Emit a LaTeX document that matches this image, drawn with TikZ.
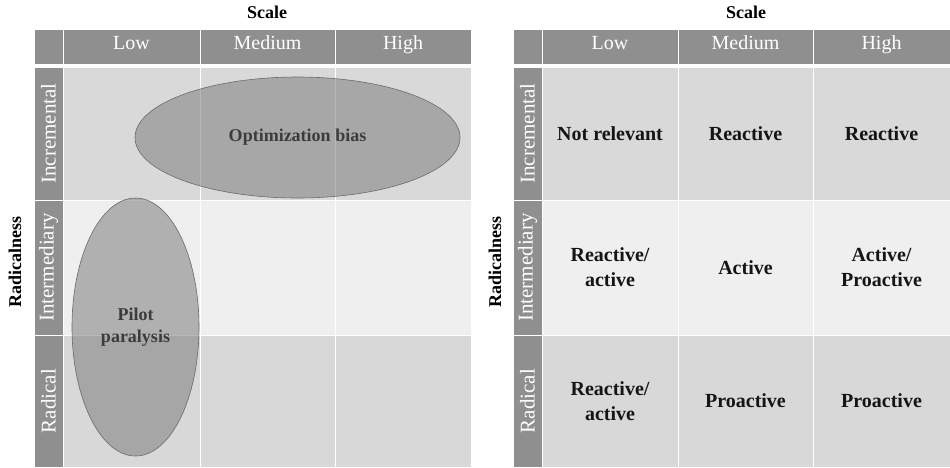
\documentclass[tikz,border=0pt]{standalone}
\usepackage{fontspec}
\setmainfont{Liberation Serif}
\usetikzlibrary{shapes.geometric}
\definecolor{hdrgray}{HTML}{8F8F8F}
\definecolor{rowA}{HTML}{D9D9D9}
\definecolor{rowB}{HTML}{EFEFEF}
\definecolor{rowC}{HTML}{D8D8D8}
\definecolor{ovalfill}{HTML}{7E7E7E}
\definecolor{ovaledge}{HTML}{6A6A6A}
\definecolor{ovaltext}{HTML}{3C3C3C}
\definecolor{celltext}{HTML}{151515}
\tikzset{
  box/.style={rectangle, draw=white, line width=1pt, inner sep=0pt},
  hdr/.style={box, fill=hdrgray, text=white, font=\fontsize{20}{23}\selectfont,
    text height=0.85em, text depth=0.2em},
  side/.style={box, fill=hdrgray},
  sidetext/.style={text=white, font=\fontsize{21}{24}\selectfont, rotate=90, inner sep=0pt},
  body/.style={box, text=celltext, align=center, font=\fontsize{20}{25}\selectfont\bfseries},
  axis/.style={font=\fontsize{18}{21}\selectfont\bfseries, text=black, inner sep=0pt},
  oval/.style={ellipse, draw=ovaledge, line width=0.6pt, fill=ovalfill, fill opacity=0.55,
    text opacity=1, text=ovaltext, align=center, inner sep=0pt,
    font=\fontsize{18}{22}\selectfont\bfseries},
}
\begin{document}
\begin{tikzpicture}[x=1pt,y=-1pt]
\useasboundingbox (0,0) rectangle (950,467);
\fill[white] (0,0) rectangle (950,467);

% ---------- left matrix: scale x radicalness with the two biases ----------
\node[axis] (Lscale) at (267,12) {Scale};
\node[axis, rotate=90] (Lrad) at (15,262) {Radicalness};

\node[hdr, minimum width=29pt, minimum height=35pt] (Lcorner) at (48.5,46.5) {};
\node[hdr, minimum width=137pt, minimum height=35pt] (Llow) at (131.5,46.5) {Low};
\node[hdr, minimum width=135pt, minimum height=35pt] (Lmed) at (267.5,46.5) {Medium};
\node[hdr, minimum width=136pt, minimum height=35pt] (Lhigh) at (403,46.5) {High};

\node[side, minimum width=29pt, minimum height=133pt] (Lr1) at (48.5,133.5) {};
\node[side, minimum width=29pt, minimum height=135pt] (Lr2) at (48.5,267.5) {};
\node[side, minimum width=29pt, minimum height=132pt] (Lr3) at (48.5,401) {};
\node[sidetext] (Lr1t) at (Lr1) {Incremental};
\node[sidetext] (Lr2t) at (Lr2) {Intermediary};
\node[sidetext] (Lr3t) at (Lr3) {Radical};

\node[body, fill=rowA, minimum width=137pt, minimum height=133pt] (L11) at (131.5,133.5) {};
\node[body, fill=rowA, minimum width=135pt, minimum height=133pt] (L12) at (267.5,133.5) {};
\node[body, fill=rowA, minimum width=136pt, minimum height=133pt] (L13) at (403,133.5) {};
\node[body, fill=rowB, minimum width=137pt, minimum height=135pt] (L21) at (131.5,267.5) {};
\node[body, fill=rowB, minimum width=135pt, minimum height=135pt] (L22) at (267.5,267.5) {};
\node[body, fill=rowB, minimum width=136pt, minimum height=135pt] (L23) at (403,267.5) {};
\node[body, fill=rowC, minimum width=137pt, minimum height=132pt] (L31) at (131.5,401) {};
\node[body, fill=rowC, minimum width=135pt, minimum height=132pt] (L32) at (267.5,401) {};
\node[body, fill=rowC, minimum width=136pt, minimum height=132pt] (L33) at (403,401) {};

\node[oval, minimum width=325pt, minimum height=121pt] (optim) at (297.5,137.5) {Optimization bias};
\node[oval, minimum width=127pt, minimum height=258pt] (pilot) at (135.5,327) {Pilot\\paralysis};

% ---------- right matrix: scale x radicalness with the responses ----------
\node[axis] (Rscale) at (746,12) {Scale};
\node[axis, rotate=90] (Rrad) at (495,262) {Radicalness};

\node[hdr, minimum width=29pt, minimum height=35pt] (Rcorner) at (527.5,46.5) {};
\node[hdr, minimum width=136pt, minimum height=35pt] (Rlow) at (610,46.5) {Low};
\node[hdr, minimum width=135pt, minimum height=35pt] (Rmed) at (745.5,46.5) {Medium};
\node[hdr, minimum width=137pt, minimum height=35pt] (Rhigh) at (881.5,46.5) {High};

\node[side, minimum width=29pt, minimum height=133pt] (Rr1) at (527.5,133.5) {};
\node[side, minimum width=29pt, minimum height=135pt] (Rr2) at (527.5,267.5) {};
\node[side, minimum width=29pt, minimum height=132pt] (Rr3) at (527.5,401) {};
\node[sidetext] (Rr1t) at (Rr1) {Incremental};
\node[sidetext] (Rr2t) at (Rr2) {Intermediary};
\node[sidetext] (Rr3t) at (Rr3) {Radical};

\node[body, fill=rowA, minimum width=136pt, minimum height=133pt] (R11) at (610,133.5) {Not relevant};
\node[body, fill=rowA, minimum width=135pt, minimum height=133pt] (R12) at (745.5,133.5) {Reactive};
\node[body, fill=rowA, minimum width=137pt, minimum height=133pt] (R13) at (881.5,133.5) {Reactive};
\node[body, fill=rowB, minimum width=136pt, minimum height=135pt] (R21) at (610,267.5) {Reactive/\\active};
\node[body, fill=rowB, minimum width=135pt, minimum height=135pt] (R22) at (745.5,267.5) {Active};
\node[body, fill=rowB, minimum width=137pt, minimum height=135pt] (R23) at (881.5,267.5) {Active/\\Proactive};
\node[body, fill=rowC, minimum width=136pt, minimum height=132pt] (R31) at (610,401) {Reactive/\\active};
\node[body, fill=rowC, minimum width=135pt, minimum height=132pt] (R32) at (745.5,401) {Proactive};
\node[body, fill=rowC, minimum width=137pt, minimum height=132pt] (R33) at (881.5,401) {Proactive};
\end{tikzpicture}
\end{document}
